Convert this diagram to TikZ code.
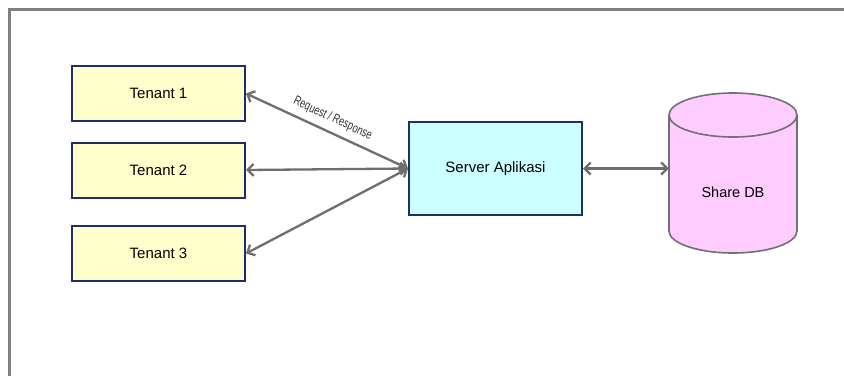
\documentclass[tikz,border=0pt]{standalone}
\usepackage{fontspec}
\setmainfont{Liberation Sans}
\newfontfamily\narrowfont[FakeStretch=0.72]{Liberation Sans}
\usetikzlibrary{arrows.meta}
\definecolor{frame}{HTML}{808080}
\definecolor{navy}{HTML}{1F2D6B}
\definecolor{tenantfill}{HTML}{FFFFCC}
\definecolor{serverfill}{HTML}{CCFFFF}
\definecolor{dbfill}{HTML}{FFCCFF}
\definecolor{dbline}{HTML}{707070}
\definecolor{conn}{HTML}{6E6E6E}
\tikzset{
  box/.style={draw=navy, line width=2pt, minimum width=173pt, inner sep=0pt, font=\fontsize{15}{18}\selectfont},
  tenantbox/.style={box, fill=tenantfill, minimum height=55pt},
  serverbox/.style={box, fill=serverfill, minimum height=93pt},
  link/.style={draw=conn, line width=2.3pt, {Straight Barb[length=6pt,width=12pt]}-{Straight Barb[length=6pt,width=12pt]}}
}
\begin{document}
\begin{tikzpicture}[x=1pt,y=-1pt]
\useasboundingbox (0,0) rectangle (844,376);
\fill[white] (0,0) rectangle (844,376);
\draw[frame, line width=3pt] (9.5,376) -- (9.5,9.5) -- (844,9.5);

\node[tenantbox] (t1) at (158.5,93.5) {Tenant 1};
\node[tenantbox] (t2) at (158.5,170) {Tenant 2};
\node[tenantbox] (t3) at (158.5,253.5) {Tenant 3};
\node[serverbox] (srv) at (495.5,168.5) {Server Aplikasi};

% cylinder
\def\cl{669}\def\cr{797}\def\ct{115}\def\cb{231}\def\ry{22}
\fill[dbfill] (733,\ct) ellipse[x radius=64pt, y radius=\ry pt];
\filldraw[fill=dbfill, draw=dbline, line width=1.6pt]
  (\cl,\ct) -- (\cl,\cb) arc[start angle=180, end angle=360, x radius=64pt, y radius=\ry pt] -- (\cr,\ct);
\draw[dbline, line width=1.6pt] (733,\ct) ellipse[x radius=64pt, y radius=\ry pt];
\node[minimum width=128pt, minimum height=160pt, inner sep=0pt] (db) at (733,168.5) {};
\node[font=\fontsize{14.5}{17}\selectfont, inner sep=0pt] (dbtext) at (733,192) {Share DB};

\draw[link] (t1.east) -- node[sloped, above=3pt, font=\narrowfont\fontsize{13}{15}\selectfont, text=black!80] {Request / Response} (srv.west);
\draw[link] (t2.east) -- (srv.west);
\draw[link] (t3.east) -- (srv.west);
\draw[link] (srv.east) -- (db.west);
\end{tikzpicture}
\end{document}
